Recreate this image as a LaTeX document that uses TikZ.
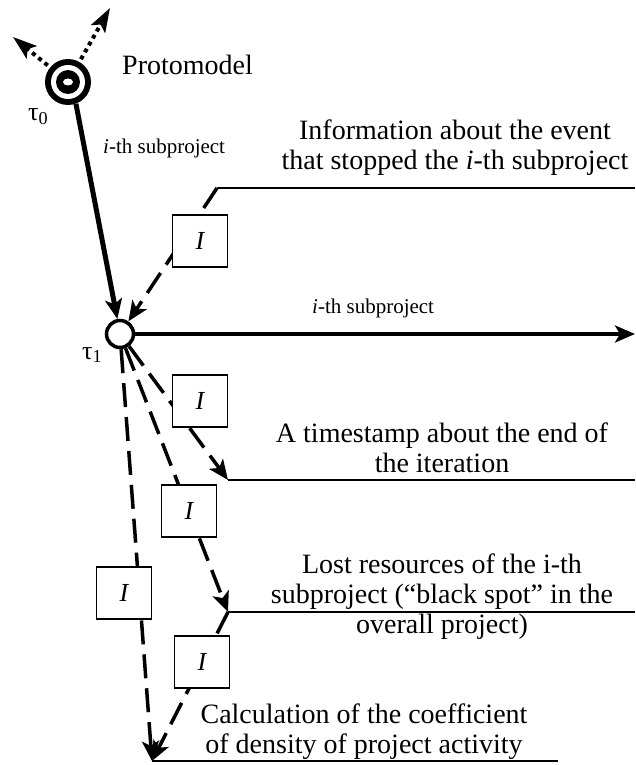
\documentclass[tikz,border=0pt]{standalone}
\usepackage{fontspec}
\setmainfont{Liberation Serif}
\usetikzlibrary{arrows.meta,positioning}
\tikzset{>={Stealth[length=20pt,width=17pt,inset=5pt]},
	bigtext/.style={font=\fontsize{28}{30}\selectfont, inner sep=0pt},
	smalltext/.style={font=\fontsize{21}{24}\selectfont, inner sep=0pt},
	taulabel/.style={font=\fontsize{26}{28}\selectfont, inner sep=0pt, anchor=base west},
	ibox/.style={draw, line width=1.8pt, fill=white, minimum width=55pt,
		minimum height=52pt, font=\fontsize{26}{28}\selectfont\itshape},
	dashline/.style={line width=3.5pt, dash pattern=on 24pt off 10pt},
	dotline/.style={line width=4pt, dash pattern=on 4pt off 4pt,
		-{Stealth[length=24pt,width=16pt,inset=5pt]}},
	thinline/.style={line width=2pt}}

\begin{document}
\begin{tikzpicture}[x=1pt,y=-1pt]
	\useasboundingbox (0,0) rectangle (635,765);
	% protomodel
	\node[circle, fill, minimum size=46pt, inner sep=0pt] (proto) at (68,82) {};
	\fill[white] (proto.center) circle (17pt);
	\fill (proto.center) circle (12pt);
	\fill[white] (proto.center) ellipse (5pt and 3.5pt);
	\node[bigtext, anchor=base west] (protolab) at (122,75) {Protomodel};
	\node[taulabel] (tau0) at (28,121) {τ\textsubscript{0}};
	\coordinate (ul) at (13,37);
	\coordinate (ur) at (110,8);
	\draw[dotline, shorten <=3pt] (proto) -- (ul);
	\draw[dotline, shorten <=3pt] (proto) -- (ur);
	% iteration point
	\node[circle, draw, line width=3.5pt, minimum size=27pt, inner sep=0pt] (t1) at (120,334) {};
	\node[taulabel] (tau1) at (82,359) {τ\textsubscript{1}};
	\draw[line width=5pt, ->] (proto.-70) -- (t1.100);
	\node[smalltext, anchor=base west] (sub1) at (103,153) {\textit{i}-th subproject};
	\coordinate (harr) at (635,334);
	\draw[line width=4.5pt, ->] (t1) -- (harr);
	\node[smalltext, anchor=base west] (sub2) at (312,313) {\textit{i}-th subproject};
	% corners of the result lines
	\coordinate (c1) at (217,188); \coordinate (e1) at (635,188);
	\coordinate (c2) at (228,480); \coordinate (e2) at (635,480);
	\coordinate (c3) at (228,612); \coordinate (e3) at (635,612);
	\coordinate (c4) at (152,761); \coordinate (e4) at (558,761);
	\draw[thinline] (c1) -- (e1);
	\draw[thinline] (c2) -- (e2);
	\draw[thinline] (c3) -- (e3);
	\draw[thinline] (c4) -- (e4);
	\draw[dashline, ->] (c1) -- (t1);
	\draw[dashline, ->] (t1) -- (c2);
	\draw[dashline, ->] (t1) -- (c3);
	\draw[dashline, ->] (t1) -- (c4);
	\draw[dashline, ->] (c3) -- (c4);
	\node[ibox] (i1) at (200,241) {I};
	\node[ibox] (i2) at (200,401) {I};
	\node[ibox] (i3) at (189,511) {I};
	\node[ibox] (i4) at (124,593) {I};
	\node[ibox] (i5) at (202,662) {I};
	% texts (base = last line)
	\node[bigtext, align=center, anchor=base] (info) at (455,169)
		{Information about the event\\that stopped the \textit{i}-th subproject};
	\node[bigtext, align=center, anchor=base] (stamp) at (442,472)
		{A timestamp about the end of\\the iteration};
	\node[bigtext, align=center, anchor=base] (lost) at (442,633)
		{Lost resources of the i-th\\subproject (“black spot” in the\\overall project)};
	\node[bigtext, align=center, anchor=base] (calc) at (364,753)
		{Calculation of the coefficient\\of density of project activity};
\end{tikzpicture}
\end{document}
